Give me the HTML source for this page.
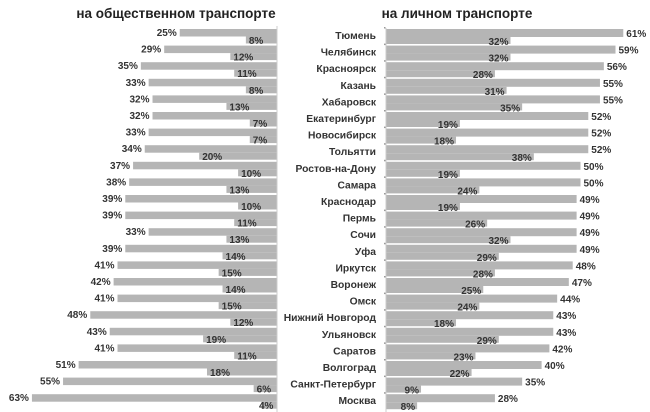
<!DOCTYPE html>
<html><head><meta charset="utf-8"><style>
html,body{margin:0;padding:0;background:#fff;}
svg{display:block;}
text{font-family:"Liberation Sans",sans-serif;font-weight:bold;fill:#333;}
</style></head><body>
<svg id="s" width="650" height="412" xmlns="http://www.w3.org/2000/svg">
<text x="176" y="18" text-anchor="middle" font-size="13.5" style="fill:#222">на общественном транспорте</text>
<text x="457" y="18" text-anchor="middle" font-size="13.5" style="fill:#222">на личном транспорте</text>
</svg>
<script>
var s=document.getElementById('s'),h='';
var L=[[25,8],[29,12],[35,11],[33,8],[32,13],[32,7],[33,7],[34,20],[37,10],[38,13],[39,10],[39,11],[33,13],[39,14],[41,15],[42,14],[41,15],[48,12],[43,19],[41,11],[51,18],[55,6],[63,4]];
var R=[["Тюмень",61,32],["Челябинск",59,32],["Красноярск",56,28],["Казань",55,31],["Хабаровск",55,35],["Екатеринбург",52,19],["Новосибирск",52,18],["Тольятти",52,38],["Ростов-на-Дону",50,19],["Самара",50,24],["Краснодар",49,19],["Пермь",49,26],["Сочи",49,32],["Уфа",49,29],["Иркутск",48,28],["Воронеж",47,25],["Омск",44,24],["Нижний Новгород",43,18],["Ульяновск",43,29],["Саратов",42,23],["Волгоград",40,22],["Санкт-Петербург",35,9],["Москва",28,8]];
var k=3.89,ax=277,c='#b5b5b5';
L.forEach(function(d,i){var y=29+i*16.6,a=d[0]*k,b=d[1]*k;
h+='<rect x="'+(ax-a)+'" y="'+y+'" width="'+a+'" height="7.5" fill="'+c+'"/>';
h+='<rect x="'+(ax-b)+'" y="'+(y+7.5)+'" width="'+b+'" height="7" fill="'+c+'"/>';
h+='<text x="'+(ax-a-3)+'" y="'+(y+7)+'" text-anchor="end" font-size="10">'+d[0]+'%</text>';
var lx=Math.min(ax-b+3,ax-18);
h+='<text x="'+lx+'" y="'+(y+15)+'" font-size="10">'+d[1]+'%</text>';});
h+='<line x1="'+ax+'" y1="26" x2="'+ax+'" y2="412" stroke="#ccc"/>';
var bx=386;
R.forEach(function(d,i){var y=29+i*16.6,a=d[1]*k,b=d[2]*k;
h+='<rect x="'+bx+'" y="'+y+'" width="'+a+'" height="8" fill="'+c+'"/>';
h+='<rect x="'+bx+'" y="'+(y+8)+'" width="'+b+'" height="7" fill="'+c+'"/>';
h+='<text x="'+(bx+a+3)+'" y="'+(y+8)+'" font-size="10">'+d[1]+'%</text>';
h+='<text x="'+Math.max(bx+b-2,bx+20)+'" y="'+(y+16)+'" text-anchor="end" font-size="10">'+d[2]+'%</text>';
h+='<text x="376" y="'+(y+10)+'" text-anchor="end" font-size="10.3">'+d[0]+'</text>';
h+='<rect x="384" y="'+(y-2)+'" width="1.5" height="1.5" fill="#999"/>';});
h+='<line x1="'+bx+'" y1="28" x2="'+bx+'" y2="412" stroke="#ccc"/>';
s.insertAdjacentHTML('beforeend',h);
</script>
</body></html>
